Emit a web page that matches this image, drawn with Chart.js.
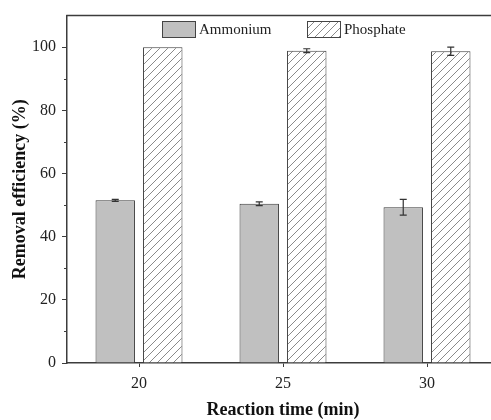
<!DOCTYPE html>
<html>
<head>
<meta charset="utf-8">
<script src="https://cdn.jsdelivr.net/npm/chart.js@4/dist/chart.umd.min.js"></script>
<style>
  html, body { margin: 0; padding: 0; background: #fff; overflow: hidden; }
  #wrap { width: 491px; height: 420px; overflow: hidden; position: relative; }
  #box { width: 500px; height: 420px; position: absolute; left: 0; top: 0; }
</style>
</head>
<body>
<div id="wrap"><div id="box"><canvas id="c" width="500" height="420"></canvas></div></div>
<script>
// ---- data ----
const categories = ['20', '25', '30'];
const ammonium = [51.5, 50.4, 49.3];
const ammoniumErr = [0.3, 0.6, 2.5];
const phosphate = [100.0, 98.9, 98.7];
const phosphateErr = [0, 0.6, 1.3];
const yTickValues = [0, 20, 40, 60, 80, 100];
const yMinorValues = [10, 30, 50, 70, 90];
const seriesNames = ['Ammonium', 'Phosphate'];

const SERIF = '"Liberation Serif", "Times New Roman", serif';
const AXIS = '#3c3c3c';

function hatch() {
  const p = document.createElement('canvas');
  p.width = 8; p.height = 8;
  const g = p.getContext('2d');
  g.fillStyle = '#ffffff';
  g.fillRect(0, 0, 8, 8);
  g.strokeStyle = '#8a8a8a';
  g.lineWidth = 1;
  g.beginPath();
  g.moveTo(-1, 9); g.lineTo(9, -1);
  g.moveTo(-5, 5); g.lineTo(5, -5);
  g.moveTo(3, 13); g.lineTo(13, 3);
  g.stroke();
  return document.getElementById('c').getContext('2d').createPattern(p, 'repeat');
}
const hatchPattern = hatch();

const errorBars = {
  id: 'errorBars',
  afterDatasetsDraw(chart) {
    const ctx = chart.ctx, ys = chart.scales.y;
    chart.data.datasets.forEach((ds, di) => {
      const meta = chart.getDatasetMeta(di);
      meta.data.forEach((el, i) => {
        const e = ds.errors[i];
        if (!e) return;
        const v = ds.data[i];
        const y1 = ys.getPixelForValue(v + e), y2 = ys.getPixelForValue(v - e);
        ctx.save();
        ctx.strokeStyle = '#333';
        ctx.lineWidth = 1.2;
        ctx.beginPath();
        ctx.moveTo(el.x, y1); ctx.lineTo(el.x, y2);
        ctx.moveTo(el.x - 3.5, y1); ctx.lineTo(el.x + 3.5, y1);
        ctx.moveTo(el.x - 3.5, y2); ctx.lineTo(el.x + 3.5, y2);
        ctx.stroke();
        ctx.restore();
      });
    });
  }
};

const frame = {
  id: 'frame',
  afterDraw(chart) {
    const ctx = chart.ctx, a = chart.chartArea, ys = chart.scales.y;
    ctx.save();
    ctx.strokeStyle = AXIS;
    ctx.lineWidth = 1.5;
    ctx.beginPath();
    ctx.moveTo(a.left - 0.75, a.top); ctx.lineTo(a.right + 10, a.top);
    ctx.stroke();
    ctx.lineWidth = 1;
    ctx.beginPath();
    yMinorValues.forEach(v => {
      const y = Math.round(ys.getPixelForValue(v)) + 0.5;
      ctx.moveTo(a.left - 3, y); ctx.lineTo(a.left, y);
    });
    ctx.stroke();
    const boxes = [{x: 162, y: 21}, {x: 307, y: 21}];
    ctx.font = '15px ' + SERIF;
    ctx.textBaseline = 'middle';
    chart.data.datasets.forEach((ds, i) => {
      const b = boxes[i];
      ctx.fillStyle = ds.backgroundColor;
      ctx.fillRect(b.x, b.y, 33, 16);
      ctx.strokeStyle = '#444';
      ctx.lineWidth = 1;
      ctx.strokeRect(b.x + 0.5, b.y + 0.5, 33, 16);
      ctx.fillStyle = '#222';
      ctx.fillText(ds.label, b.x + 37, b.y + 9);
    });
    ctx.restore();
  }
};

new Chart(document.getElementById('c'), {
  type: 'bar',
  data: {
    labels: categories,
    datasets: [
      { label: seriesNames[0], data: ammonium, errors: ammoniumErr,
        backgroundColor: '#c0c0c0', borderColor: '#3a3a3a', borderWidth: 1,
        categoryPercentage: 0.66, barPercentage: 0.83 },
      { label: seriesNames[1], data: phosphate, errors: phosphateErr,
        backgroundColor: hatchPattern, borderColor: '#3a3a3a', borderWidth: 1,
        categoryPercentage: 0.66, barPercentage: 0.83 }
    ]
  },
  options: {
    responsive: false,
    animation: false,
    layout: { padding: { top: 15, right: 1, left: 0, bottom: 0 } },
    plugins: { legend: { display: false }, tooltip: { enabled: false } },
    scales: {
      x: {
        offset: true,
        grid: { display: true, drawOnChartArea: false, drawTicks: true, tickLength: 4, tickColor: AXIS, offset: false },
        border: { color: AXIS, width: 1.5 },
        ticks: { color: '#222', font: { family: SERIF, size: 16 }, padding: 7, maxRotation: 0 },
        title: { display: true, text: 'Reaction time (min)', color: '#111',
                 font: { family: SERIF, size: 18, weight: 'bold' }, padding: { top: 0, bottom: -1 } },
        afterFit(s) { s.height = 57; }
      },
      y: {
        min: 0, max: 110,
        afterBuildTicks(s) { s.ticks = yTickValues.map(v => ({ value: v })); },
        grid: { display: true, drawOnChartArea: false, drawTicks: true, tickLength: 5, tickColor: AXIS },
        border: { color: AXIS, width: 1.5 },
        ticks: { color: '#222', font: { family: SERIF, size: 16 }, padding: 6 },
        title: { display: true, text: 'Removal efficiency (%)', color: '#111',
                 font: { family: SERIF, size: 18, weight: 'bold' }, padding: { top: 10, bottom: 0 } },
        afterFit(s) { s.width = 67; }
      }
    }
  },
  plugins: [errorBars, frame]
});
</script>
</body>
</html>
